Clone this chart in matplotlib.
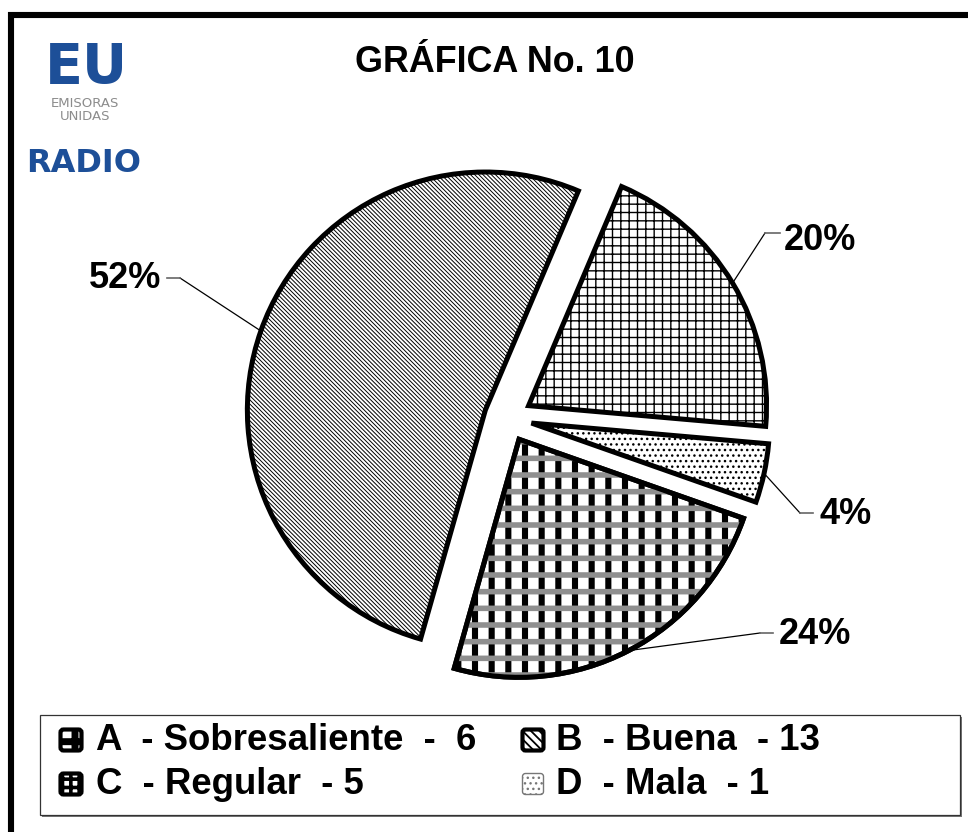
import matplotlib
matplotlib.use('Agg')
import matplotlib.pyplot as plt
from matplotlib.patches import Wedge, Rectangle, FancyBboxPatch
import numpy as np

# ---------------- data ----------------
categories = ['A', 'B', 'C', 'D']
names = ['Sobresaliente', 'Buena', 'Regular', 'Mala']
counts = [6, 13, 5, 1]
legend_labels = ['A  - Sobresaliente  -  6', 'B  - Buena  - 13',
                 'C  - Regular  - 5', 'D  - Mala  - 1']
title = 'GRÁFICA No. 10'

plt.rcParams['font.family'] = ['Liberation Sans', 'DejaVu Sans']

W, H = 968, 832
fig = plt.figure(figsize=(W / 100, H / 100), dpi=100)
ax = fig.add_axes([0, 0, 1, 1])


def Y(y):
    return H - y


def set_hlw(p, lw):
    if hasattr(p, 'set_hatch_linewidth'):
        p.set_hatch_linewidth(lw)


# ---------------- pie ----------------
wedges, _ = ax.pie(counts, startangle=-19.4, counterclock=False,
                   center=(508, Y(418)), radius=238, explode=[24] * 4,
                   frame=True,
                   wedgeprops=dict(facecolor='white', edgecolor='black',
                                   linewidth=3.6))
ax.set_xlim(0, W)
ax.set_ylim(0, H)
ax.set_aspect('equal')
ax.axis('off')

hatches = ['|', '\\' * 8, '++', '...']
hlws = [4.4, 0.7, 1.0, 1.0]
for w, h, lw in zip(wedges, hatches, hlws):
    w.set_hatch(h)
    set_hlw(w, lw)

# extra layer for slice A (gray horizontal bands) + outline on top
wA = wedges[0]
ov = Wedge(wA.center, wA.r, wA.theta1, wA.theta2, facecolor='none',
           edgecolor='#8f8f8f', linewidth=0, hatch='-', zorder=wA.get_zorder() + 0.1)
set_hlw(ov, 4.0)
ax.add_patch(ov)
outl = Wedge(wA.center, wA.r, wA.theta1, wA.theta2, facecolor='none',
             edgecolor='black', linewidth=3.6, zorder=wA.get_zorder() + 0.2)
ax.add_patch(outl)

# ---------------- percentage labels with leader lines ----------------
total = sum(counts)
pcts = [f'{round(c / total * 100)}%' for c in counts]
# (elbow, end, text pos, ha) in pixel coords (y from top)
lab_layout = [
    ((760, 633), (773, 633), (779, 635), 'left'),
    ((180, 278), (167, 278), (161, 279), 'right'),
    ((765, 233), (780, 233), (784, 240), 'left'),
    ((800, 513), (813, 513), (820, 515), 'left'),
]
for w, p, (el, en, tp, ha) in zip(wedges, pcts, lab_layout):
    mid = np.deg2rad((w.theta1 + w.theta2) / 2)
    ax_ = w.center[0] + w.r * np.cos(mid)
    ay_ = w.center[1] + w.r * np.sin(mid)
    ax.plot([ax_, el[0]], [ay_, Y(el[1])], color='black', lw=0.9, zorder=5)
    ax.plot([el[0], en[0]], [Y(el[1]), Y(en[1])], color='#666666', lw=1.2, zorder=5)
    ax.text(tp[0], Y(tp[1]), p, ha=ha, va='center', fontsize=26,
            fontweight='bold', color='black', zorder=6)

# ---------------- title ----------------
ax.text(495, Y(63), title, ha='center', va='center', fontsize=25.8,
        fontweight='bold', color='black')

# ---------------- outer frame ----------------
ax.plot([11, 11, W + 20], [-20, Y(15), Y(15)], color='black', lw=4.4,
        solid_joinstyle='miter', clip_on=False)

# ---------------- logo ----------------
blue = '#1d4f98'
ax.text(86, Y(83), 'EU', ha='center', va='baseline', fontsize=40,
        fontweight='bold', color=blue, family=['DejaVu Sans'])
ax.text(85, Y(97), 'EMISORAS\nUNIDAS', ha='center', va='top', fontsize=9.5,
        linespacing=1.05, color='#8c8c8c', family=['DejaVu Sans'])
ax.text(84, Y(164), 'RADIO', ha='center', va='center', fontsize=23,
        fontweight='bold', color=blue, family=['DejaVu Sans'])

# ---------------- legend ----------------
ax.add_patch(Rectangle((42, Y(817)), 920, 100, facecolor='#777777',
                       edgecolor='none', zorder=1))
ax.add_patch(Rectangle((40, Y(815)), 920, 100, facecolor='white',
                       edgecolor='#333333', linewidth=0.9, zorder=2))

leg_pos = [(59, 728, 96), (521, 728, 556), (59, 772, 96), (521, 772, 556)]
marker_style = [
    dict(facecolor='white', edgecolor='black', hatch='+', hlw=5.0, lw=3.0),
    dict(facecolor='white', edgecolor='black', hatch='\\\\\\\\', hlw=1.3, lw=3.0),
    dict(facecolor='white', edgecolor='black', hatch='++', hlw=2.6, lw=3.0),
    dict(facecolor='white', edgecolor='#777777', hatch='...', hlw=1.0, lw=1.0),
]
for lab, (mx, my, tx), st in zip(legend_labels, leg_pos, marker_style):
    size = 24
    m = FancyBboxPatch((mx + 1.5, Y(my + size) + 1.5), size - 3, size - 3,
                       boxstyle='round,pad=0,rounding_size=3',
                       facecolor=st['facecolor'], edgecolor=st['edgecolor'],
                       linewidth=st['lw'], hatch=st['hatch'], zorder=3)
    set_hlw(m, st['hlw'])
    ax.add_patch(m)
    ax.text(tx, Y(my + size / 2 + 1), lab, ha='left', va='center',
            fontsize=26.4, fontweight='bold', color='black', zorder=4)

fig.savefig('out.png', dpi=100)
